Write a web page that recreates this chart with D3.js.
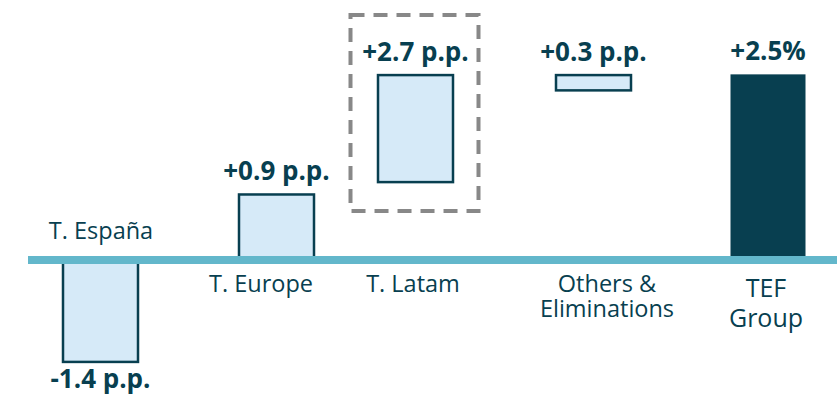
<!DOCTYPE html>
<html>
<head>
<meta charset="utf-8">
<script src="https://cdn.jsdelivr.net/npm/d3@7"></script>
<style>
  body { margin: 0; background: #fff; }
  svg { display: block; font-family: "Open Sans", sans-serif; }
</style>
</head>
<body>
<svg width="837" height="396"></svg>
<script>
// data
var categories = ["T. España", "T. Europe", "T. Latam", "Others & Eliminations", "TEF Group"];
var catLines = [["T. España"], ["T. Europe"], ["T. Latam"], ["Others &", "Eliminations"], ["TEF", "Group"]];
var valueLabels = ["-1.4 p.p.", "+0.9 p.p.", "+2.7 p.p.", "+0.3 p.p.", "+2.5%"];
var barLow  = [-1.4, 0,   1.07, 2.33, 0];
var barHigh = [0,    0.9, 2.54, 2.54, 2.55];
var isTotal = [false, false, false, false, true];
var highlighted = "T. Latam";

var dark = "#083f50";
var light = "#d6eaf8";
var lineColor = "#63b7cb";

var svg = d3.select("svg");

// bar centres and category label centres are not evenly spaced in the original
var x = d3.scaleOrdinal().domain(categories).range([100.5, 276.5, 415.5, 593.5, 768]);
var xLab = d3.scaleOrdinal().domain(categories).range([101, 261, 413, 607, 766]);
var barW = 75;
var y = d3.scaleLinear().domain([0, 2.5]).range([260, 78]);

var data = categories.map(function (c, i) {
  return { cat: c, lo: barLow[i], hi: barHigh[i], total: isTotal[i], label: valueLabels[i], lines: catLines[i] };
});

// highlight box
var hd = data.filter(function (d) { return d.cat == highlighted; })[0];
svg.append("rect")
  .attr("x", x(hd.cat) - 65)
  .attr("y", y(hd.hi) - 60)
  .attr("width", 128)
  .attr("height", y(hd.lo) - y(hd.hi) + 89)
  .attr("fill", "none")
  .attr("stroke", "#888")
  .attr("stroke-width", 4)
  .attr("stroke-dasharray", "14 9");

// bars
svg.selectAll(".bar").data(data).enter().append("rect")
  .attr("class", "bar")
  .attr("x", function (d) { return x(d.cat) - barW / 2; })
  .attr("y", function (d) { return y(d.hi); })
  .attr("width", barW)
  .attr("height", function (d) { return y(d.lo) - y(d.hi); })
  .attr("fill", function (d) { return d.total ? dark : light; })
  .attr("stroke", function (d) { return d.total ? "none" : dark; })
  .attr("stroke-width", 2.5);

// zero line
svg.append("line")
  .attr("x1", 28).attr("x2", 837)
  .attr("y1", y(0)).attr("y2", y(0))
  .attr("stroke", lineColor)
  .attr("stroke-width", 8);

// value labels
svg.selectAll(".val").data(data).enter().append("text")
  .attr("class", "val")
  .attr("x", function (d) { return x(d.cat); })
  .attr("y", function (d) { return d.hi > 0 ? y(d.hi) - 14 : y(d.lo) + 26; })
  .attr("text-anchor", "middle")
  .attr("font-size", "26px")
  .attr("font-weight", "bold")
  .attr("fill", dark)
  .text(function (d) { return d.label; });

// category labels, one text per line
data.forEach(function (d) {
  var above = d.lo < 0;
  var big = d.total;
  d.lines.forEach(function (l, j) {
    svg.append("text")
      .attr("x", xLab(d.cat))
      .attr("y", (above ? y(0) - 21 : y(0) + (big ? 37 : 32)) + j * (big ? 30 : 25))
      .attr("text-anchor", "middle")
      .attr("font-size", big ? "25px" : "23.5px")
      .attr("fill", dark)
      .text(l);
  });
});
</script>
</body>
</html>
